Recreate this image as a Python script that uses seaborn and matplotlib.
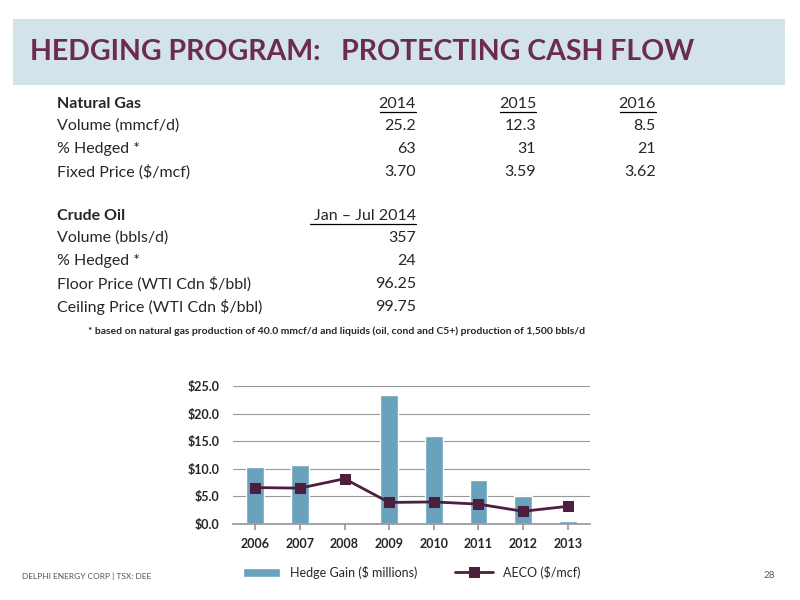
import matplotlib
matplotlib.use("Agg")
import matplotlib.pyplot as plt
import seaborn as sns
import pandas as pd
from matplotlib.patches import Rectangle
from matplotlib.lines import Line2D

years = ["2006", "2007", "2008", "2009", "2010", "2011", "2012", "2013"]
hedge_gain = [10.4, 10.7, 0.0, 23.4, 16.0, 7.9, 5.1, 0.5]
aeco = [6.6, 6.5, 8.2, 3.9, 4.0, 3.6, 2.3, 3.2]
yticks = [0, 5, 10, 15, 20, 25]

sns.set_theme(style="white")
plt.rcParams['font.family'] = ['Lato', 'DejaVu Sans']
purple = "#6b2b55"
blue = "#6aa2bd"

fig = plt.figure(figsize=(8, 6), dpi=100)
fig.patches.append(Rectangle((13/800, 1-85/600), 772/800, 66/600, transform=fig.transFigure,
                             facecolor="#d3e3ea", edgecolor="none", zorder=0))
fig.text(30/800, 1-52/600, "HEDGING PROGRAM:   PROTECTING CASH FLOW", fontsize=20.5, fontweight="bold",
         color=purple, va="center")

def row(y, label, vals, bold=False):
    fy = 1 - y/600
    fig.text(57/800, fy, label, fontsize=11.5, fontweight="bold" if bold else "normal", va="center")
    for x, v in zip([416, 536, 656], vals):
        fig.text(x/800, fy, v, fontsize=11.5, ha="right", va="center")

rows = [
    (104, "Natural Gas", ["2014", "2015", "2016"], True),
    (126, "Volume (mmcf/d)", ["25.2", "12.3", "8.5"], False),
    (149, "% Hedged *", ["63", "31", "21"], False),
    (172, "Fixed Price ($/mcf)", ["3.70", "3.59", "3.62"], False),
    (216, "Crude Oil", ["Jan \u2013 Jul 2014"], True),
    (238, "Volume (bbls/d)", ["357"], False),
    (261, "% Hedged *", ["24"], False),
    (284, "Floor Price (WTI Cdn $/bbl)", ["96.25"], False),
    (307, "Ceiling Price (WTI Cdn $/bbl)", ["99.75"], False),
]
for y, lab, vals, b in rows:
    row(y, lab, vals, bold=b)
for x0, x1 in [(380, 416), (500, 536), (620, 656)]:
    fig.add_artist(Line2D([x0/800, x1/800], [1-112/600]*2, color="black", lw=0.9, transform=fig.transFigure))
fig.add_artist(Line2D([310/800, 416/800], [1-224/600]*2, color="black", lw=0.9, transform=fig.transFigure))
fig.text(88/800, 1-331/600, "* based on natural gas production of 40.0 mmcf/d and liquids (oil, cond and C5+) production of 1,500 bbls/d",
         fontsize=7.5, fontweight="bold", va="center")

ax = fig.add_axes([233/800, 1-524/600, 357/800, 138/600])
df = pd.DataFrame({"year": years, "Hedge Gain ($ millions)": hedge_gain, "AECO ($/mcf)": aeco})
sns.barplot(data=df, x="year", y="Hedge Gain ($ millions)", color=blue, saturation=1, width=0.4, ax=ax,
            label="Hedge Gain ($ millions)")
sns.lineplot(x=range(len(years)), y=aeco, color="#4b1f3d", marker="s", markersize=7, lw=2,
             markeredgecolor="#4b1f3d", ax=ax, label="AECO ($/mcf)")
ax.set_ylim(0, 25)
ax.set_yticks(yticks)
ax.set_yticklabels([f"${v:.1f}" for v in yticks], fontsize=9, fontweight="bold")
ax.set_xticks(range(len(years)))
ax.set_xticklabels(years, fontsize=9, fontweight="bold")
ax.set_xlabel(""); ax.set_ylabel("")
ax.set_xlim(-0.5, 7.5)
ax.yaxis.grid(True, color="#999999", lw=0.8)
ax.set_axisbelow(True)
for s in ["top", "right", "left"]:
    ax.spines[s].set_visible(False)
ax.spines["bottom"].set_color("#999999")
ax.tick_params(axis="x", length=4, color="#999999", bottom=True, pad=6)
h, l = ax.get_legend_handles_labels()
order = [l.index("Hedge Gain ($ millions)"), l.index("AECO ($/mcf)")]
ax.legend([h[i] for i in order], [l[i] for i in order], loc="upper center", bbox_to_anchor=(0.5, -0.22),
          ncol=2, frameon=False, fontsize=9, handlelength=3, columnspacing=3)

fig.text(22/800, 1-576/600, "DELPHI ENERGY CORP | TSX: DEE", fontsize=6, color="#555555", va="center")
fig.text(775/800, 1-576/600, "28", fontsize=7, color="#555555", va="center", ha="right")
fig.savefig("out.png", dpi=100)
